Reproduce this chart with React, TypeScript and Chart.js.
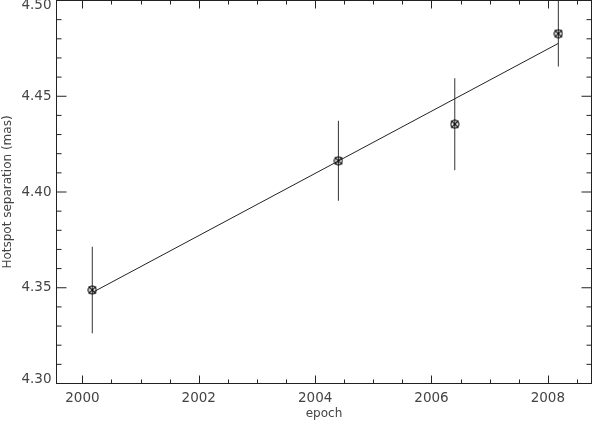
import React, { useEffect, useRef } from "react";
import { Chart, registerables } from "chart.js";

Chart.register(...registerables);

// Observations (epoch, hotspot separation in mas, 1-sigma error)
const epochs = [2000.17, 2004.40, 2006.40, 2008.18];
const separations = [4.3488, 4.4163, 4.4354, 4.4827];
const errors = [0.0226, 0.0209, 0.024, 0.0172];

// Linear fit end points
const fitEpochs = [2000.17, 2008.18];
const fitSeparations = [4.3475, 4.4776];

// Axis ranges and ticks
const xRange = [1999.555, 2008.75];
const yRange = [4.3, 4.5];
const xMinorStep = 0.5;
const xMajorStep = 2;
const yMinorStep = 0.01;
const yMajorStep = 0.05;

const TEXT = "#444";
const FONT = "'DejaVu Sans', sans-serif";

function isMajor(v: number, major: number) {
  const r = v / major;
  return Math.abs(r - Math.round(r)) < 1e-6;
}

function isEdgeY(v: number) {
  return Math.abs(v - yRange[0]) < 1e-6 || Math.abs(v - yRange[1]) < 1e-6;
}

function makeMarker(): HTMLCanvasElement {
  const c = document.createElement("canvas");
  c.width = 10;
  c.height = 10;
  const g = c.getContext("2d")!;
  g.strokeStyle = "#000";
  g.lineWidth = 1.1;
  g.beginPath();
  g.arc(5, 5, 4, 0, Math.PI * 2);
  g.stroke();
  g.beginPath();
  g.moveTo(1.5, 1.5);
  g.lineTo(8.5, 8.5);
  g.moveTo(8.5, 1.5);
  g.lineTo(1.5, 8.5);
  g.stroke();
  return c;
}

const frame = {
  id: "idlFrame",
  beforeDatasetsDraw(chart: any) {
    const { ctx, chartArea: a, scales } = chart;
    const xs = scales.x;
    const ys = scales.y;
    ctx.save();
    ctx.beginPath();
    ctx.rect(a.left, a.top - 1, a.right - a.left, a.bottom - a.top + 1);
    ctx.clip();
    ctx.strokeStyle = "#333";
    ctx.lineWidth = 1;
    for (let i = 0; i < epochs.length; i++) {
      const px = xs.getPixelForValue(epochs[i]);
      const y1 = ys.getPixelForValue(separations[i] - errors[i]);
      const y2 = ys.getPixelForValue(separations[i] + errors[i]);
      ctx.beginPath();
      ctx.moveTo(px, y1);
      ctx.lineTo(px, y2);
      ctx.stroke();
    }
    ctx.restore();
  },
  afterDraw(chart: any) {
    const { ctx, chartArea: a, scales } = chart;
    const xs = scales.x;
    const ys = scales.y;
    ctx.save();
    ctx.strokeStyle = "#222";
    ctx.lineWidth = 1;
    ctx.strokeRect(a.left, a.top, a.right - a.left, a.bottom - a.top);
    ctx.beginPath();
    const xMaj = 8;
    const yMaj = 10;
    for (const t of xs.ticks) {
      const px = Math.round(xs.getPixelForValue(t.value)) + 0.5;
      const len = isMajor(t.value, xMajorStep) ? xMaj : xMaj / 2;
      ctx.moveTo(px, a.bottom);
      ctx.lineTo(px, a.bottom - len);
      ctx.moveTo(px, a.top);
      ctx.lineTo(px, a.top + len);
    }
    for (const t of ys.ticks) {
      const py = ys.getPixelForValue(t.value);
      const len = isMajor(t.value, yMajorStep) ? yMaj : yMaj / 2;
      ctx.moveTo(a.left, py);
      ctx.lineTo(a.left + len, py);
      ctx.moveTo(a.right, py);
      ctx.lineTo(a.right - len, py);
    }
    ctx.stroke();
    ctx.restore();
  },
};

export default function App() {
  const ref = useRef<HTMLCanvasElement | null>(null);
  useEffect(() => {
    if (!ref.current) return;
    const marker = makeMarker();
    const chart = new Chart(ref.current, {
      type: "scatter",
      data: {
        datasets: [
          {
            type: "line",
            data: fitEpochs.map((x, i) => ({ x, y: fitSeparations[i] })),
            borderColor: "#222",
            borderWidth: 1,
            pointRadius: 0,
            fill: false,
          } as any,
          {
            data: epochs.map((x, i) => ({ x, y: separations[i] })),
            pointStyle: marker as any,
            pointRadius: 5,
            borderColor: "#000",
            backgroundColor: "#000",
          },
        ],
      },
      options: {
        responsive: false,
        animation: false,
        devicePixelRatio: 1,
        layout: { autoPadding: false, padding: { top: 0.5, right: 4.5, left: 0, bottom: 0 } },
        plugins: { legend: { display: false }, tooltip: { enabled: false } },
        scales: {
          x: {
            type: "linear",
            position: "bottom",
            min: xRange[0],
            max: xRange[1],
            grid: { display: false, drawTicks: false },
            border: { display: false },
            ticks: {
              stepSize: xMinorStep,
              includeBounds: false,
              autoSkip: false,
              maxRotation: 0,
              padding: 7,
              color: TEXT,
              font: { family: FONT, size: 13.5 },
              callback: (v: any) => (isMajor(Number(v), xMajorStep) ? String(Math.round(Number(v))) : ""),
            },
            title: {
              display: true,
              text: "epoch",
              color: TEXT,
              font: { family: FONT, size: 12 },
              padding: { top: 0, bottom: 2 },
            },
            afterFit: (s: any) => {
              s.height = 39.5;
              s.paddingLeft = 0;
              s.paddingRight = 0;
              s.paddingTop = 0;
              s.paddingBottom = 0;
            },
          },
          y: {
            type: "linear",
            min: yRange[0],
            max: yRange[1],
            grid: { display: false, drawTicks: false },
            border: { display: false },
            ticks: {
              stepSize: yMinorStep,
              includeBounds: false,
              autoSkip: false,
              padding: 5,
              color: TEXT,
              font: (c: any) => {
                const v = c && c.tick ? Number(c.tick.value) : 0;
                return isEdgeY(v)
                  ? { family: FONT, size: 13.5, lineHeight: "9px" }
                  : { family: FONT, size: 13.5 };
              },
              callback: (v: any) => {
                const n = Number(v);
                if (!isMajor(n, yMajorStep)) return "";
                const s = n.toFixed(2);
                if (Math.abs(n - yRange[1]) < 1e-6) return ["", s];
                if (Math.abs(n - yRange[0]) < 1e-6) return [s, ""];
                return s;
              },
            },
            title: {
              display: true,
              text: "Hotspot separation (mas)",
              color: TEXT,
              font: { family: FONT, size: 12 },
              padding: { top: 1, bottom: 0 },
            },
            afterFit: (s: any) => {
              s.width = 56.5;
              s.paddingLeft = 0;
              s.paddingRight = 0;
              s.paddingTop = 0;
              s.paddingBottom = 0;
            },
          },
        },
      },
      plugins: [frame],
    });
    return () => chart.destroy();
  }, []);
  return (
    <div style={{ position: "fixed", left: 0, top: 0, width: 596, height: 423, background: "#fff" }}>
      <canvas ref={ref} width={596} height={423} style={{ display: "block" }} />
    </div>
  );
}
